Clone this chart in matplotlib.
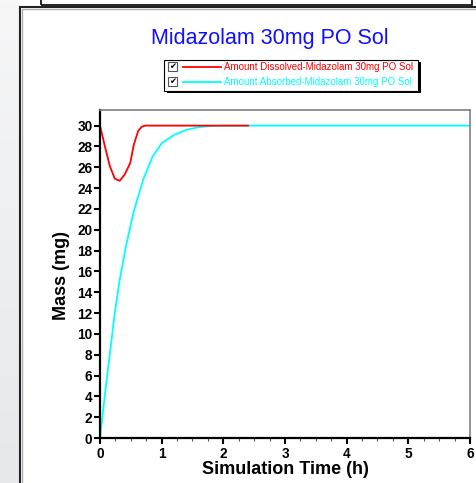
import numpy as np
import matplotlib.pyplot as plt
from matplotlib.patches import Rectangle
from matplotlib.lines import Line2D

# data
t_dissolved = [0, 0.08, 0.16, 0.24, 0.32, 0.40, 0.49, 0.55, 0.62, 0.68, 0.73, 2.4]
m_dissolved = [30, 28.0, 26.1, 24.9, 24.7, 25.3, 26.4, 28.2, 29.5, 29.9, 30, 30]
t_absorbed = [0, 0.08, 0.16, 0.24, 0.32, 0.41, 0.54, 0.70, 0.85, 1.0, 1.2, 1.4, 1.6, 1.8, 2.0, 6]
m_absorbed = [0, 4.2, 8.1, 12.0, 15.2, 18.1, 21.6, 24.8, 27.0, 28.3, 29.1, 29.6, 29.85, 29.97, 30, 30]

title = "Midazolam 30mg PO Sol"
labels = ["Amount Dissolved-Midazolam 30mg PO Sol",
          "Amount Absorbed-Midazolam 30mg PO Sol"]
colors = ["#ff0000", "#00ffff"]

W, H = 477, 483
plt.rcParams['font.family'] = ['Liberation Sans', 'DejaVu Sans']


def fx(x):
    return x / W


def fy(y):
    return 1 - y / H


fig = plt.figure(figsize=(W / 100, H / 100), dpi=100)
fig.patch.set_facecolor("white")

# left grey strip of the window behind
bg = fig.add_axes([0, 0, fx(19), 1])
grad = np.linspace(0, 1, 100).reshape(-1, 1)
bg.imshow(grad, cmap=plt.matplotlib.colors.LinearSegmentedColormap.from_list(
    "g", ["#f6f6f7", "#e6e8eb"]), aspect="auto", extent=[0, 1, 0, 1])
bg.set_axis_off()

# panel frame and the box above it
fig.patches.append(Rectangle((fx(20), -0.1), 1, fy(7) + 0.1, transform=fig.transFigure,
                             fill=False, ec="#222222", lw=1.5))
fig.patches.append(Rectangle((fx(22), -0.1), 1, fy(9) + 0.1, transform=fig.transFigure,
                             fill=False, ec="#b0b0b0", lw=1.0))
fig.patches.append(Rectangle((fx(41), fy(5)), fx(472) - fx(41), 0.05, transform=fig.transFigure,
                             fill=False, ec="black", lw=1.2))

ax = fig.add_axes([fx(100), fy(438), fx(470) - fx(100), fy(110) - fy(438)])
ax.plot(t_absorbed, m_absorbed, color=colors[1], lw=1.3)
ax.plot(t_dissolved, m_dissolved, color=colors[0], lw=1.3)

ax.set_xlim(0, 6)
ax.set_ylim(0, 31.5)
ax.set_xticks(range(0, 7))
ax.set_xticks(np.arange(0, 6.01, 0.25), minor=True)
ax.set_yticks(range(0, 31, 2))
ax.tick_params(axis="both", which="major", direction="out", length=4, width=1.5,
               labelsize=9.8, pad=1.5)
ax.tick_params(axis="x", which="major", pad=2.5)
ax.tick_params(axis="x", which="minor", direction="out", length=2, width=0.8, color="#555555")
for lab in ax.get_xticklabels() + ax.get_yticklabels():
    lab.set_fontweight("bold")

ax.spines["left"].set_linewidth(1.6)
ax.spines["bottom"].set_linewidth(1.6)
ax.spines["top"].set_color("#808080")
ax.spines["right"].set_color("#808080")
ax.spines["top"].set_linewidth(1.2)
ax.spines["right"].set_linewidth(1.2)

fig.text(fx(62), fy(275), "Mass (mg)", rotation=90, ha="center", va="center",
         fontsize=13, fontweight="bold")
fig.text(fx(285), fy(469), "Simulation Time (h)", ha="center", va="center",
         fontsize=13, fontweight="bold")
fig.text(fx(269.5), fy(38.5), title, ha="center", va="center", fontsize=15.5, color="#1010ff")

# legend with check boxes
fig.patches.append(Rectangle((fx(167), fy(93)), fx(418) - fx(164), fy(60) - fy(91),
                             transform=fig.transFigure, fc="black", ec="black", lw=0))
fig.patches.append(Rectangle((fx(164), fy(91)), fx(418) - fx(164), fy(60) - fy(91),
                             transform=fig.transFigure, fc="white", ec="black", lw=0.8))
for i, (lab, c) in enumerate(zip(labels, colors)):
    yc = 66.8 + 15 * i
    fig.patches.append(Rectangle((fx(168), fy(yc + 4.5)), fx(9), fy(0) - fy(9),
                                 transform=fig.transFigure, fc="white", ec="#555555", lw=0.8))
    fig.text(fx(172.5), fy(yc), "\u2714", ha="center", va="center", fontsize=6,
             family=["DejaVu Sans"])
    fig.lines.append(Line2D([fx(183), fx(221)], [fy(yc), fy(yc)], transform=fig.transFigure,
                            color=c, lw=1.3))
    fig.text(fx(224), fy(yc), lab, ha="left", va="center", fontsize=7, color=c)

fig.savefig("out.png", dpi=100)
